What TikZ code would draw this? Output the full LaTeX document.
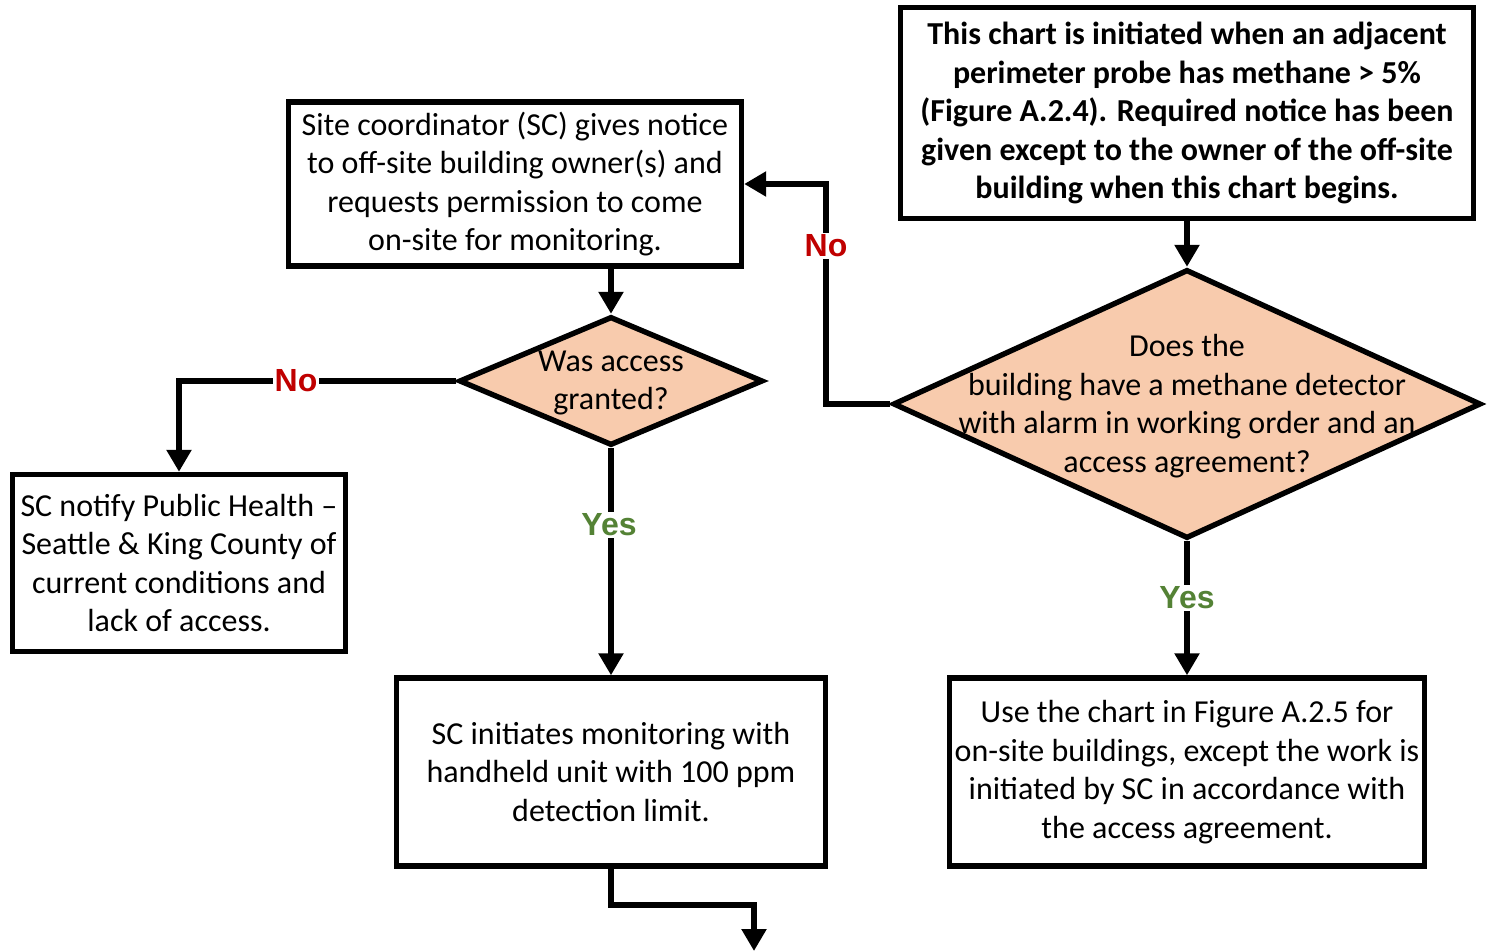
\documentclass[tikz,border=0pt]{standalone}
\usepackage{fontspec}
\setmainfont{Carlito}
\newfontfamily\labfont{Liberation Sans}
\usetikzlibrary{shapes.geometric,arrows.meta}
\definecolor{dfill}{HTML}{F8CBAD}
\definecolor{nored}{HTML}{C00000}
\definecolor{yesgreen}{RGB}{84,130,53}
\tikzset{
  box/.style={draw=black, line width=2.7pt, fill=white, align=center, inner sep=0pt,
    font=\fontsize{16}{19.25}\selectfont},
  dia/.style={draw=black, line width=2.7pt, fill=dfill, diamond, inner sep=0pt},
  dtext/.style={align=center, inner sep=0pt, font=\fontsize{16}{19.25}\selectfont},
  arr/.style={line width=2.7pt, -{Triangle[width=12pt,length=11pt]}},
  lab/.style={fill=white, inner sep=1pt, font=\labfont\bfseries\fontsize{16}{18}\selectfont},
}
\begin{document}
\begin{tikzpicture}[x=0.5pt,y=-0.5pt]
\useasboundingbox (0,0) rectangle (1489,951);
% nodes
\node[box, minimum width=286.5pt, minimum height=105.5pt, font=\bfseries\fontsize{16}{19.25}\selectfont] (init) at (1187,113)
  {This chart is initiated when an adjacent\\perimeter probe has methane > 5\%\\(Figure A.2.4). Required notice has been\\given except to the owner of the off-site\\building when this chart begins.};
\node[box, minimum width=226.5pt, minimum height=82pt] (notice) at (515,184)
  {Site coordinator (SC) gives notice\\to off-site building owner(s) and\\requests permission to come\\on-site for monitoring.};
\node[dia, minimum width=152pt, minimum height=64.5pt] (d1) at (611,381) {};
\node[dtext] (d1t) at (611,383) {Was access\\granted?};
\node[dia, minimum width=294pt, minimum height=134.5pt] (d2) at (1187,404) {};
\node[dtext] (d2t) at (1187,406) {Does the\\building have a methane detector\\with alarm in working order and an\\access agreement?};
\node[box, minimum width=166.5pt, minimum height=88.5pt] (ph) at (179,563)
  {SC notify Public Health --\\Seattle \& King County of\\current conditions and\\lack of access.};
\node[box, minimum width=214.5pt, minimum height=94pt] (mon) at (611,772)
  {SC initiates monitoring with\\handheld unit with 100 ppm\\detection limit.};
\node[box, minimum width=237.5pt, minimum height=94pt] (use) at (1187,772)
  {Use the chart in Figure A.2.5 for\\on-site buildings, except the work is\\initiated by SC in accordance with\\the access agreement.};
% connector helpers
\coordinate (k1) at (826,184);
\coordinate (k2) at (754,905);
\coordinate (endp) at (754,951);
% connectors
\draw[arr] (init.south) -- (d2.north);
\draw[arr] (d2.west) -| (k1) -- (notice.east);
\draw[arr] (notice.south -| d1.north) -- (d1.north);
\draw[arr] (d1.west) -| (ph.north);
\draw[arr] (d1.south) -- (mon.north);
\draw[arr] (d2.south) -- (use.north);
\draw[arr] (mon.south) |- (k2) -- (endp);
% labels
\node[lab, text=nored] (no1) at (826,246) {No};
\node[lab, text=nored] (no2) at (296,381) {No};
\node[lab, text=yesgreen] (yes1) at (609,525) {Yes};
\node[lab, text=yesgreen] (yes2) at (1187,598) {Yes};
\end{tikzpicture}
\end{document}
